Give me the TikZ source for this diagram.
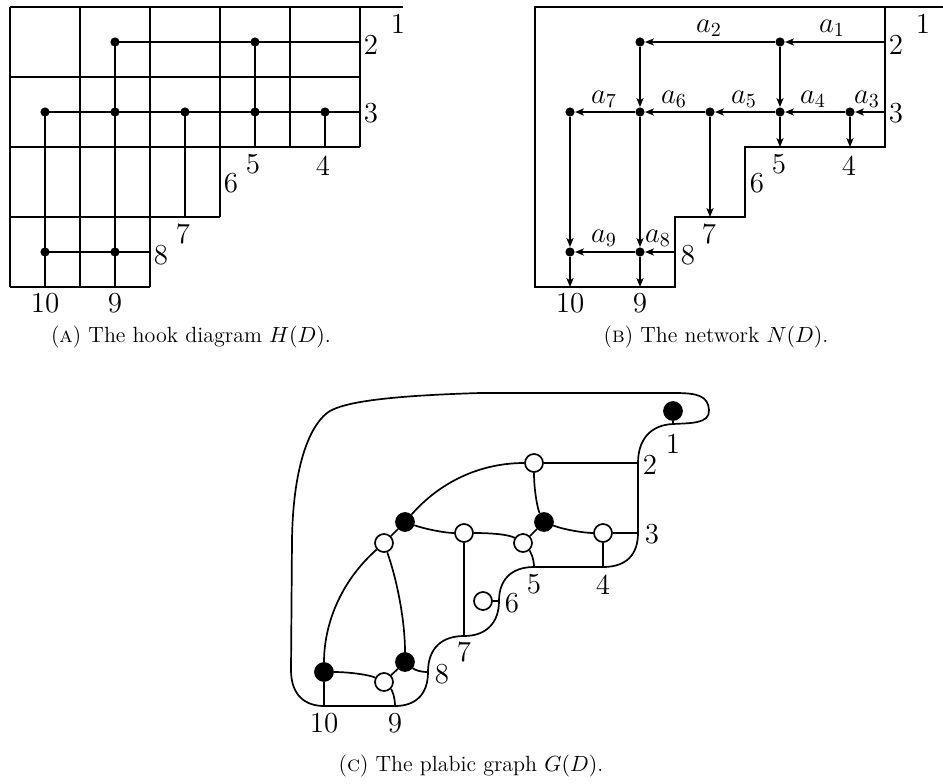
\documentclass[tikz,border=0pt]{standalone}
\usetikzlibrary{arrows.meta}
\begin{document}
\begin{tikzpicture}[x=0.5pt,y=-0.5pt,
  gridln/.style={line width=0.65pt},
  hookln/.style={line width=1.1pt},
  netln/.style={line width=0.7pt},
  arr/.style={line width=0.65pt,-{Stealth[length=4.5pt,width=3.6pt,inset=1.2pt]}},
  dotnode/.style={circle,fill=black,inner sep=0pt,minimum size=4.6pt},
  lab/.style={font=\fontsize{14.5}{16}\selectfont,inner sep=0pt},
  captext/.style={font=\fontsize{11}{13}\selectfont,inner sep=0pt},
  plab/.style={line width=0.85pt},
  bv/.style={circle,draw,fill=black,line width=0.85pt,inner sep=0pt,minimum size=9pt},
  wv/.style={circle,draw,fill=white,line width=0.85pt,inner sep=0pt,minimum size=9pt}]
\useasboundingbox (0,0) rectangle (943,783);

% ---------------- Panel A ----------------
\draw[gridln] (10,7) -- (403,7);
\foreach \yy in {77,147} \draw[gridln] (10,\yy) -- (360,\yy);
\draw[gridln] (10,217) -- (220,217);
\draw[gridln] (10,287) -- (150,287);
\foreach \xx in {10,80,150} \draw[gridln] (\xx,7) -- (\xx,287);
\draw[gridln] (220,7) -- (220,217);
\foreach \xx in {290,360} \draw[gridln] (\xx,7) -- (\xx,147);

\coordinate (A2) at (360,42);
\coordinate (A3) at (360,112);
\coordinate (A4) at (325,147);
\coordinate (A5) at (255,147);
\coordinate (A7) at (185,217);
\coordinate (A8) at (150,252);
\coordinate (A9) at (115,287);
\coordinate (A10) at (45,287);

\node[dotnode] (Ah1) at (115,42) {};
\node[dotnode] (Ah2) at (255,42) {};
\node[dotnode] (Am1) at (45,112) {};
\node[dotnode] (Am2) at (115,112) {};
\node[dotnode] (Am3) at (185,112) {};
\node[dotnode] (Am4) at (255,112) {};
\node[dotnode] (Am5) at (325,112) {};
\node[dotnode] (Al1) at (45,252) {};
\node[dotnode] (Al2) at (115,252) {};

\draw[hookln] (Ah1.center) -- (A2);
\draw[hookln] (Am1.center) -- (A3);
\draw[hookln] (Al1.center) -- (A8);
\draw[hookln] (Am1.center) -- (A10);
\draw[hookln] (Ah1.center) -- (A9);
\draw[hookln] (Am3.center) -- (A7);
\draw[hookln] (Ah2.center) -- (A5);
\draw[hookln] (Am5.center) -- (A4);

\node[lab] (la1) at (398,24) {1};
\node[lab] (la2) at (371,45) {2};
\node[lab] (la3) at (371,113) {3};
\node[lab] (la4) at (323,166) {4};
\node[lab] (la5) at (253,164) {5};
\node[lab] (la6) at (231,183) {6};
\node[lab] (la7) at (183,234) {7};
\node[lab] (la8) at (161,255) {8};
\node[lab] (la9) at (115,303) {9};
\node[lab] (la10) at (45,303) {10};
\node[captext] (capA) at (191,337) {(\textsc{a}) The hook diagram $H(D)$.};

% ---------------- Panel B ----------------
\draw[netln] (535,7) -- (885,7) -- (885,147) -- (745,147) -- (745,217) -- (675,217) -- (675,287) -- (535,287) -- cycle;
\draw[netln] (885,7) -- (943,7);

\coordinate (B2) at (885,42);
\coordinate (B3) at (885,112);
\coordinate (B4) at (850,147);
\coordinate (B5) at (780,147);
\coordinate (B7) at (710,217);
\coordinate (B8) at (675,252);
\coordinate (B9) at (640,287);
\coordinate (B10) at (570,287);

\node[dotnode] (Bh1) at (640,42) {};
\node[dotnode] (Bh2) at (780,42) {};
\node[dotnode] (Bm1) at (570,112) {};
\node[dotnode] (Bm2) at (640,112) {};
\node[dotnode] (Bm3) at (710,112) {};
\node[dotnode] (Bm4) at (780,112) {};
\node[dotnode] (Bm5) at (850,112) {};
\node[dotnode] (Bl1) at (570,252) {};
\node[dotnode] (Bl2) at (640,252) {};

\draw[arr] (B2) -- (Bh2);
\draw[arr] (Bh2) -- (Bh1);
\draw[arr] (B3) -- (Bm5);
\draw[arr] (Bm5) -- (Bm4);
\draw[arr] (Bm4) -- (Bm3);
\draw[arr] (Bm3) -- (Bm2);
\draw[arr] (Bm2) -- (Bm1);
\draw[arr] (B8) -- (Bl2);
\draw[arr] (Bl2) -- (Bl1);
\draw[arr] (Bh1) -- (Bm2);
\draw[arr] (Bm2) -- (Bl2);
\draw[arr] (Bl2) -- (B9);
\draw[arr] (Bh2) -- (Bm4);
\draw[arr] (Bm4) -- (B5);
\draw[arr] (Bm5) -- (B4);
\draw[arr] (Bm3) -- (B7);
\draw[arr] (Bm1) -- (Bl1);
\draw[arr] (Bl1) -- (B10);

\node[lab] (ea1) at (832,28) {$a_1$};
\node[lab] (ea2) at (709,28) {$a_2$};
\node[lab] (ea3) at (867,99) {$a_3$};
\node[lab] (ea4) at (813,99) {$a_4$};
\node[lab] (ea5) at (744,99) {$a_5$};
\node[lab] (ea6) at (674,99) {$a_6$};
\node[lab] (ea7) at (604,99) {$a_7$};
\node[lab] (ea8) at (658,238) {$a_8$};
\node[lab] (ea9) at (604,238) {$a_9$};

\node[lab] (lb1) at (923,24) {1};
\node[lab] (lb2) at (896,45) {2};
\node[lab] (lb3) at (896,113) {3};
\node[lab] (lb4) at (849,166) {4};
\node[lab] (lb5) at (779,164) {5};
\node[lab] (lb6) at (757,183) {6};
\node[lab] (lb7) at (709,234) {7};
\node[lab] (lb8) at (688,255) {8};
\node[lab] (lb9) at (640,303) {9};
\node[lab] (lb10) at (570,303) {10};
\node[captext] (capB) at (716,337) {(\textsc{b}) The network $N(D)$.};

% ---------------- Panel C ----------------
\coordinate (C1) at (673,424);
\coordinate (C2) at (638,463);
\coordinate (C3) at (638,533);
\coordinate (C4) at (603,567);
\coordinate (C5) at (534,567);
\coordinate (C6) at (499,601);
\coordinate (C7) at (464,636);
\coordinate (C8) at (428,672);
\coordinate (C9) at (395,706);
\coordinate (C10) at (324,706);

\draw[plab] (C10) -- (C9) .. controls (415,706) and (428,695) .. (C8)
  .. controls (428,648) and (442,636) .. (C7)
  .. controls (487,636) and (499,622) .. (C6)
  .. controls (499,580) and (511,567) .. (C5) -- (C4)
  .. controls (626,567) and (638,555) .. (C3) -- (C2)
  .. controls (638,440) and (650,425) .. (C1)
  .. controls (690,423) and (710,424) .. (709,410)
  .. controls (708,396) and (698,393) .. (675,393) -- (480,393)
  .. controls (380,396) and (340,403) .. (327,413)
  .. controls (308,428) and (293,470) .. (292,540) -- (291,670)
  .. controls (291,695) and (305,706) .. (C10);

\node[wv] (W1) at (534,463) {};
\node[bv] (K1) at (405,522) {};
\node[bv] (K2) at (544,522) {};
\node[wv] (W2) at (603,533) {};
\node[wv] (W3) at (523,543) {};
\node[wv] (W4) at (464,533) {};
\node[wv] (W5) at (384,543) {};
\node[bv] (K3) at (324,672) {};
\node[bv] (K4) at (405,662) {};
\node[wv] (W6) at (384,682) {};
\node[wv] (W7) at (483,601) {};
\node[bv] (K0) at (673,411) {};

\draw[plab] (W1) -- (C2);
\draw[plab] (W1) .. controls (480,463) and (440,482) .. (K1);
\draw[plab] (W1) .. controls (534,492) and (538,510) .. (K2);
\draw[plab] (K2) .. controls (565,530) and (585,533) .. (W2);
\draw[plab] (W2) -- (C3);
\draw[plab] (W2) -- (C4);
\draw[plab] (K2) -- (W3);
\draw[plab] (W3) .. controls (530,551) and (534,558) .. (C5);
\draw[plab] (W4) .. controls (495,533) and (510,535) .. (W3);
\draw[plab] (K1) .. controls (425,529) and (445,533) .. (W4);
\draw[plab] (W4) -- (C7);
\draw[plab] (K1) -- (W5);
\draw[plab] (W5) .. controls (340,582) and (324,625) .. (K3);
\draw[plab] (W5) .. controls (397,580) and (405,620) .. (K4);
\draw[plab] (K3) -- (C10);
\draw[plab] (K3) .. controls (350,672) and (370,675) .. (W6);
\draw[plab] (W6) -- (K4);
\draw[plab] (W6) .. controls (392,690) and (395,697) .. (C9);
\draw[plab] (K4) .. controls (415,670) and (420,672) .. (C8);
\draw[plab] (W7) -- (C6);
\draw[plab] (K0) -- (C1);

\node[lab] (lc1) at (673,444) {1};
\node[lab] (lc2) at (650,465) {2};
\node[lab] (lc3) at (652,534) {3};
\node[lab] (lc4) at (603,585) {4};
\node[lab] (lc5) at (534,584) {5};
\node[lab] (lc6) at (512,603) {6};
\node[lab] (lc7) at (464,652) {7};
\node[lab] (lc8) at (442,674) {8};
\node[lab] (lc9) at (395,723) {9};
\node[lab] (lc10) at (324,723) {10};
\node[captext] (capC) at (471,766) {(\textsc{c}) The plabic graph $G(D)$.};
\end{tikzpicture}
\end{document}
